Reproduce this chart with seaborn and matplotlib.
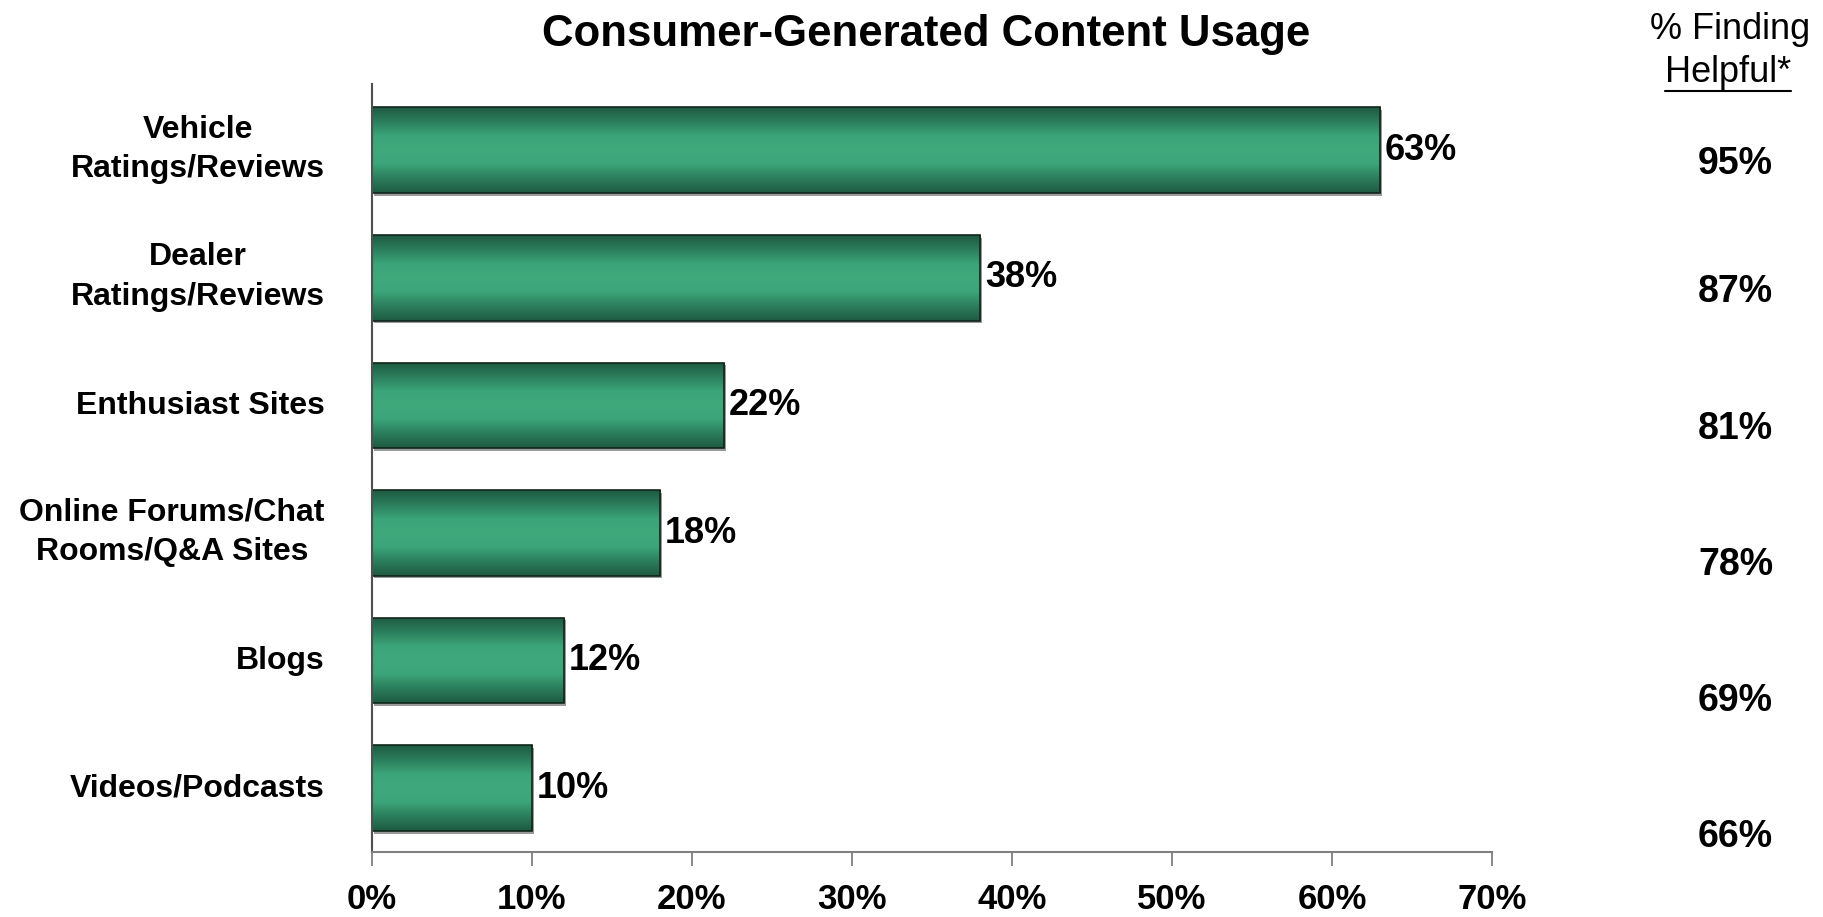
import numpy as np
import pandas as pd
import matplotlib
matplotlib.use("Agg")
import matplotlib.pyplot as plt
import matplotlib.transforms as mtransforms
import seaborn as sns
from matplotlib.colors import LinearSegmentedColormap

categories = ["Vehicle\nRatings/Reviews", "Dealer\nRatings/Reviews", "Enthusiast Sites",
              "Online Forums/Chat\nRooms/Q&A Sites", "Blogs", "Videos/Podcasts"]
usage_pct = [63, 38, 22, 18, 12, 10]
helpful_pct = [95, 87, 81, 78, 69, 66]
x_ticks = [0, 10, 20, 30, 40, 50, 60, 70]

sns.set_theme(style="white", rc={"text.color": "black", "axes.labelcolor": "black",
                                  "xtick.color": "black", "ytick.color": "black"})
plt.rcParams["font.family"] = ["Liberation Sans", "DejaVu Sans"]

fig = plt.figure(figsize=(18.23, 9.17), dpi=100)
ax = fig.add_axes([0.204, 0.0709, 0.6145, 0.8375])

df = pd.DataFrame({"category": categories, "usage": usage_pct})
sns.barplot(data=df, x="usage", y="category", orient="h", ax=ax,
            width=0.672, color="#2f8a64", edgecolor="#12261c", linewidth=1.2)

# vertical shading inside each bar: dark edges, light centre
shade = LinearSegmentedColormap.from_list(
    "bar_shade", ["#1d5a42", "#2b7d5c", "#3ba478", "#3fa97c", "#3ba478", "#2b7d5c", "#1d5a42"])
grad = np.linspace(0, 1, 256).reshape(-1, 1)
for patch in ax.patches:
    x0, y0 = patch.get_x(), patch.get_y()
    w, h = patch.get_width(), patch.get_height()
    # soft shadow under the bar
    ax.add_patch(plt.Rectangle((x0 + 0.12, y0 + 0.02), w, h, facecolor="#9a9a9a",
                               edgecolor="none", zorder=1.5))
    im = ax.imshow(grad, cmap=shade, aspect="auto", extent=(x0, x0 + w, y0 + h, y0),
                   zorder=2.1, interpolation="bicubic")
    im.set_clip_path(patch)
    patch.set_zorder(2.2)
    patch.set_facecolor("none")

ax.set_xlim(0, 70)
ax.set_ylim(5.5, -0.52)
ax.set_xticks(x_ticks)
ax.set_xticklabels([f"{t}%" for t in x_ticks], fontsize=25, fontweight="bold")
ax.set_xlabel("")
ax.set_ylabel("")
ax.tick_params(axis="x", direction="out", length=10, width=1.3, color="#808080",
               labelcolor="black", pad=12, bottom=True)
ax.tick_params(axis="y", length=0, pad=34, labelcolor="black")
for lbl in ax.get_yticklabels():
    lbl.set_fontsize(23)
    lbl.set_fontweight("bold")
    lbl.set_multialignment("center")
    lbl.set_linespacing(1.4)
    # nudge the labels up a little so they sit level with the bar centres
    lift = 9 if "\n" in lbl.get_text() else 3
    lbl.set_transform(lbl.get_transform() +
                      mtransforms.ScaledTranslation(0, lift / 100, fig.dpi_scale_trans))

for side in ["top", "right"]:
    ax.spines[side].set_visible(False)
ax.spines["left"].set_color("#505050")
ax.spines["bottom"].set_color("#808080")
for side in ["left", "bottom"]:
    ax.spines[side].set_linewidth(1.5)

# value labels at the end of each bar
for i, v in enumerate(usage_pct):
    ax.text(v + 0.3, i, f"{v}%", va="center", ha="left", fontsize=26,
            fontweight="bold", color="black", zorder=3)

fig.text(0.508, 0.962, "Consumer-Generated Content Usage", ha="center", va="center",
         fontsize=31.5, fontweight="bold", color="black")

# right-hand column: share finding each source helpful
fig.text(0.949, 0.968, "% Finding", ha="center", va="center", fontsize=26, color="black")
helpful_hdr = fig.text(0.948, 0.921, "Helpful*", ha="center", va="center", fontsize=26,
                       color="black")
fig.canvas.draw()
bb = helpful_hdr.get_window_extent().transformed(fig.transFigure.inverted())
fig.add_artist(plt.Line2D([bb.x0, bb.x1], [bb.y0 - 0.001, bb.y0 - 0.001],
                          transform=fig.transFigure, color="black", linewidth=1.5))

helpful_y = [164, 292, 429, 565, 701, 837]
for yp, v in zip(helpful_y, helpful_pct):
    fig.text(0.952, 1 - yp / 917, f"{v}%", ha="center", va="center", fontsize=27,
             fontweight="bold", color="black")

fig.savefig("out.png", dpi=100)
